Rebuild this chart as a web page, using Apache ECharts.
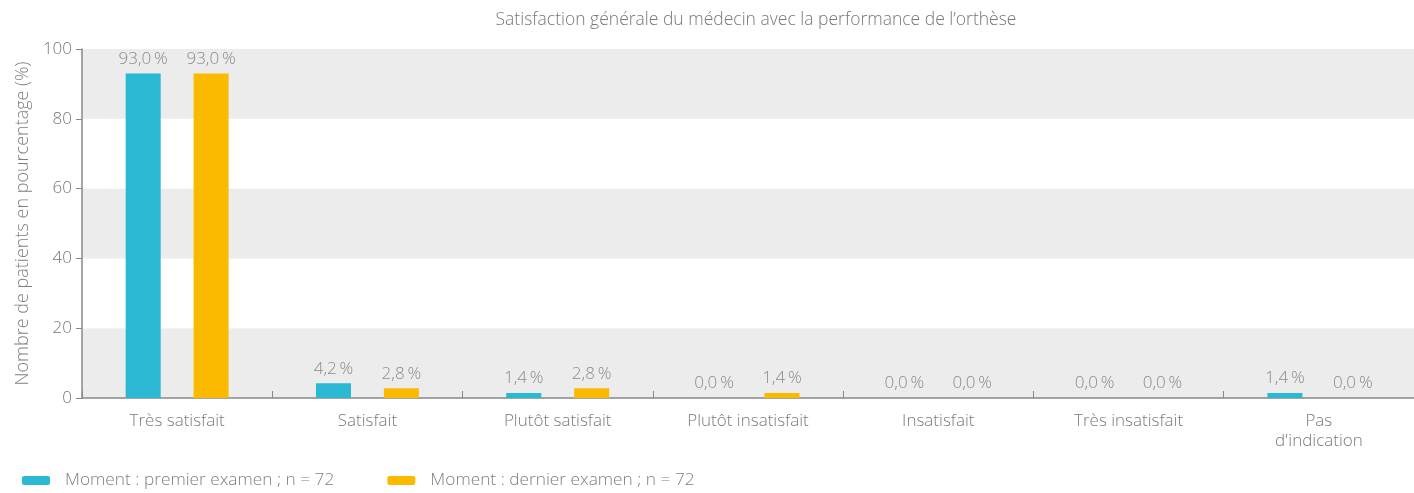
<!DOCTYPE html>
<html>
<head>
<meta charset="utf-8">
<script src="https://cdn.jsdelivr.net/npm/echarts@6/dist/echarts.min.js"></script>
<style>
  html, body { margin: 0; padding: 0; background: #fff; }
  #chart { width: 1414px; height: 493px; }
</style>
</head>
<body>
<div id="chart"></div>
<script>
// Satisfaction du médecin — deux moments d'examen
const categories = [
  'Très satisfait', 'Satisfait', 'Plutôt satisfait', 'Plutôt insatisfait',
  'Insatisfait', 'Très insatisfait', "Pas\nd'indication",
];
const premierExamen = [93.0, 4.2, 1.4, 0.0, 0.0, 0.0, 1.4];
const dernierExamen = [93.0, 2.8, 2.8, 1.4, 0.0, 0.0, 0.0];
const seriesNames = [
  'Moment : premier examen ; n = 72',
  'Moment : dernier examen ; n = 72',
];

const FONT = '"Open Sans", Roboto, sans-serif';
const GREY = '#7f7f7f';
const COLORS = { premier: '#2bb8d3', dernier: '#fbba00' };

const fmtPct = (v) => v.toFixed(1).replace('.', ',') + '\u2009%';

const barLabel = {
  show: true,
  position: 'top',
  distance: 6,
  color: '#8a8a8a',
  fontFamily: FONT,
  fontWeight: 300,
  fontSize: 17,
  formatter: (p) => fmtPct(p.value),
};

const chart = echarts.init(document.getElementById('chart'));
chart.setOption({
  animation: false,
  textStyle: { fontFamily: FONT },
  title: {
    text: 'Satisfaction générale du médecin avec la performance de l\u2019orthèse',
    left: 751,
    textAlign: 'center',
    top: 6,
    textStyle: { color: '#777', fontSize: 17.5, fontWeight: 300, fontFamily: FONT },
  },
  legend: {
    left: 17,
    top: 467,
    itemWidth: 28,
    itemHeight: 9,
    itemGap: 53,
    icon: 'roundRect',
    textStyle: { color: GREY, fontSize: 17.3, fontWeight: 300, fontFamily: FONT, padding: [0, 0, 0, 10] },
    data: seriesNames,
  },
  grid: { left: 82, top: 49, width: 1339, height: 349, containLabel: false },
  xAxis: {
    type: 'category',
    data: categories,
    axisLine: { lineStyle: { color: '#888', width: 1.5 } },
    axisTick: { show: true, inside: true, length: 7, lineStyle: { color: '#888' } },
    axisLabel: {
      color: '#7a7a7a', fontSize: 17, fontWeight: 300, margin: 13, lineHeight: 20,
      fontFamily: FONT,
    },
  },
  yAxis: {
    type: 'value',
    min: 0,
    max: 100,
    interval: 20,
    name: 'Nombre de patients en pourcentage (%)',
    nameLocation: 'middle',
    nameRotate: 90,
    nameGap: 47,
    nameTextStyle: { color: GREY, fontSize: 18, fontWeight: 300, fontFamily: FONT },
    axisLine: { show: true, lineStyle: { color: '#888', width: 1.5 } },
    axisTick: { show: true, length: 6, lineStyle: { color: '#888' } },
    axisLabel: { color: '#777', fontSize: 17, fontWeight: 300, margin: 10, fontFamily: FONT },
    splitLine: { show: false },
    splitArea: { show: true, areaStyle: { color: ['#ebeceb', '#ffffff'] } },
  },
  series: [
    {
      name: seriesNames[0],
      type: 'bar',
      data: premierExamen,
      barWidth: 35,
      barGap: '94%',
      itemStyle: { color: COLORS.premier },
      label: barLabel,
    },
    {
      name: seriesNames[1],
      type: 'bar',
      data: dernierExamen,
      barWidth: 35,
      itemStyle: { color: COLORS.dernier },
      label: barLabel,
    },
  ],
});
</script>
</body>
</html>
